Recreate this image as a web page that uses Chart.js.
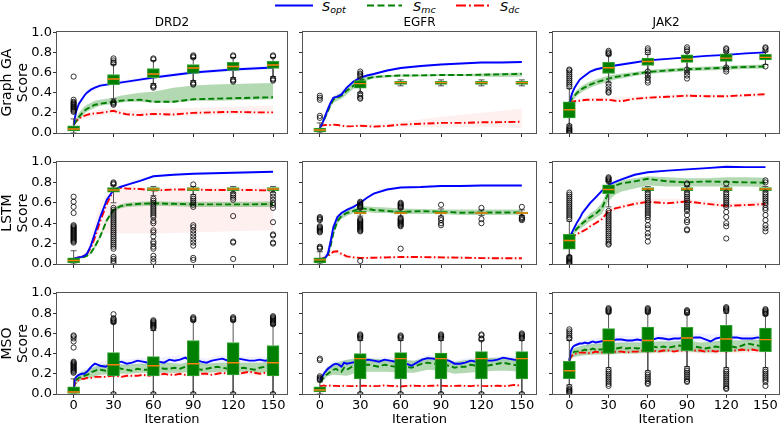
<!DOCTYPE html>
<html><head><meta charset="utf-8">
<script src="https://cdn.jsdelivr.net/npm/chart.js@4.4.0/dist/chart.umd.min.js"></script>
<style>
body{margin:0;background:#fff;width:784px;height:426px;overflow:hidden;position:relative;font-family:'DejaVu Sans',sans-serif}
canvas{position:absolute}
.leg{position:absolute;top:-1.5px;font:italic 13px 'DejaVu Sans',sans-serif;line-height:16px;color:#000;white-space:nowrap}
.leg sub{font-size:9.5px;vertical-align:-2px;line-height:0}
</style></head><body>
<svg style="position:absolute;left:0;top:0" width="784" height="14">
<line x1="275" y1="5.5" x2="313" y2="5.5" stroke="#0000ff" stroke-width="2"/>
<line x1="367" y1="5.5" x2="402" y2="5.5" stroke="#008000" stroke-width="2" stroke-dasharray="7,3.5"/>
<line x1="456" y1="5.5" x2="492" y2="5.5" stroke="#ff0000" stroke-width="2" stroke-dasharray="10,3,2,3"/>
</svg>
<div class="leg" style="left:322px">S<sub>opt</sub></div>
<div class="leg" style="left:413px">S<sub>mc</sub></div>
<div class="leg" style="left:500px">S<sub>dc</sub></div>
<script>
// ---------- categories / ticks ----------
const colNames = ['DRD2', 'EGFR', 'JAK2'];
const rowNames = ['Graph GA', 'LSTM', 'MSO'];
const iterTicks = [0, 30, 60, 90, 120, 150];
const yTickVals = [0, 0.2, 0.4, 0.6, 0.8, 1.0];
const boxIters = [0, 30, 60, 90, 120, 150];
const xSmooth = [0,2,4,6,8,10,13,16,20,25,30,35,40,50,60,75,90,105,120,135,150];
const xBand = [0,5,10,20,30,45,60,90,120,150];
const xNoisy = [0,1,2,3,4,6,8,10,12,14,16,18,20,24,28,32,36,40,44,48,52,56,60,64,68,72,76,80,84,88,92,96,100,104,108,112,116,120,124,128,132,136,140,144,148,150];
const xBandM = [0,2,5,10,20,30,40,50,60,70,80,90,100,110,120,130,140,150];

// ---------- Graph GA / DRD2 ----------
const gaDrd2Opt = [0.08,0.22,0.29,0.33,0.37,0.40,0.43,0.45,0.47,0.48,0.49,0.50,0.51,0.53,0.55,0.575,0.60,0.615,0.63,0.64,0.65];
const gaDrd2Mc = [0.08,0.12,0.16,0.19,0.22,0.24,0.26,0.28,0.29,0.30,0.31,0.32,0.325,0.33,0.31,0.31,0.335,0.34,0.345,0.35,0.355];
const gaDrd2McLo = [0.07,0.10,0.13,0.16,0.19,0.21,0.23,0.25,0.27,0.28,0.29,0.30,0.31,0.31,0.30,0.30,0.32,0.32,0.325,0.33,0.335];
const gaDrd2McHi = [0.09,0.15,0.20,0.23,0.26,0.28,0.30,0.32,0.33,0.34,0.35,0.37,0.38,0.40,0.41,0.45,0.47,0.48,0.485,0.49,0.495];
const gaDrd2Dc = [0.08,0.12,0.14,0.16,0.17,0.18,0.19,0.195,0.20,0.21,0.22,0.20,0.185,0.178,0.19,0.183,0.20,0.205,0.21,0.205,0.205];
const gaDrd2OptLo = [0.07,0.30,0.38,0.45,0.47,0.50,0.53,0.58,0.61,0.63];
const gaDrd2OptHi = [0.09,0.34,0.43,0.49,0.51,0.54,0.57,0.62,0.65,0.67];
const gaDrd2DcLo = [0.07,0.13,0.15,0.17,0.19,0.16,0.16,0.17,0.18,0.18];
const gaDrd2DcHi = [0.09,0.17,0.20,0.23,0.25,0.22,0.24,0.25,0.26,0.27];
const gaDrd2Q1 = [0.02,0.48,0.55,0.59,0.62,0.64];
const gaDrd2Med = [0.04,0.535,0.585,0.645,0.66,0.675];
const gaDrd2Q3 = [0.07,0.58,0.64,0.68,0.70,0.71];
const gaDrd2WLo = [0.0,0.34,0.49,0.52,0.55,0.56];
const gaDrd2WHi = [0.14,0.68,0.72,0.74,0.75,0.75];
const gaDrd2Out = [[0.56,0.33,0.31,0.30,0.29,0.28,0.27,0.26,0.25,0.24,0.23,0.22,0.21],[0.74,0.72,0.70,0.69,0.31,0.30,0.29,0.28],[0.74,0.73,0.47,0.46,0.45],[0.77,0.76,0.75,0.50,0.49,0.48],[0.77,0.76,0.53,0.52,0.51],[0.77,0.76,0.54,0.53,0.52]];

// ---------- Graph GA / EGFR ----------
const gaEgfrOpt = [0.05,0.10,0.17,0.24,0.30,0.35,0.36,0.38,0.45,0.51,0.55,0.57,0.585,0.62,0.645,0.665,0.68,0.69,0.70,0.70,0.705];
const gaEgfrMc = [0.05,0.10,0.16,0.22,0.28,0.33,0.35,0.37,0.42,0.47,0.52,0.54,0.555,0.565,0.57,0.572,0.575,0.575,0.578,0.582,0.587];
const gaEgfrMcLo = [0.04,0.08,0.13,0.19,0.25,0.30,0.32,0.34,0.38,0.44,0.49,0.52,0.54,0.55,0.56,0.56,0.565,0.565,0.56,0.555,0.56];
const gaEgfrMcHi = [0.06,0.12,0.19,0.25,0.31,0.36,0.38,0.40,0.45,0.50,0.54,0.56,0.57,0.575,0.58,0.58,0.585,0.585,0.59,0.595,0.60];
const gaEgfrDc = [0.075,0.075,0.08,0.08,0.08,0.083,0.08,0.072,0.066,0.068,0.072,0.068,0.063,0.07,0.083,0.092,0.10,0.10,0.106,0.108,0.112];
const gaEgfrOptLo = [0.04,0.18,0.33,0.43,0.53,0.59,0.63,0.67,0.69,0.695];
const gaEgfrOptHi = [0.06,0.22,0.37,0.47,0.57,0.61,0.66,0.69,0.71,0.715];
const gaEgfrDcLo = [0.07,0.07,0.07,0.06,0.06,0.06,0.06,0.06,0.06,0.05];
const gaEgfrDcHi = [0.08,0.09,0.09,0.08,0.09,0.09,0.11,0.16,0.20,0.24];
const gaEgfrQ1 = [0.01,0.445,0.483,0.483,0.483,0.483];
const gaEgfrMed = [0.03,0.49,0.50,0.50,0.50,0.50];
const gaEgfrQ3 = [0.05,0.52,0.513,0.513,0.513,0.513];
const gaEgfrWLo = [0.0,0.40,0.468,0.468,0.468,0.468];
const gaEgfrWHi = [0.10,0.55,0.527,0.527,0.527,0.527];
const gaEgfrOut = [[0.37,0.35,0.33,0.17,0.15],[0.61,0.59,0.58,0.56,0.39,0.37,0.35,0.34],[],[],[],[]];

// ---------- Graph GA / JAK2 ----------
const gaJak2Opt = [0.30,0.39,0.45,0.49,0.53,0.55,0.58,0.61,0.63,0.645,0.66,0.67,0.68,0.70,0.72,0.735,0.75,0.765,0.775,0.79,0.80];
const gaJak2Mc = [0.30,0.34,0.37,0.40,0.42,0.44,0.46,0.48,0.50,0.52,0.54,0.555,0.565,0.585,0.605,0.62,0.632,0.64,0.648,0.655,0.66];
const gaJak2McLo = [0.29,0.31,0.34,0.37,0.39,0.41,0.43,0.45,0.47,0.49,0.51,0.53,0.54,0.565,0.585,0.60,0.612,0.62,0.628,0.635,0.64];
const gaJak2McHi = [0.31,0.37,0.40,0.43,0.45,0.47,0.49,0.51,0.53,0.55,0.57,0.58,0.59,0.605,0.625,0.64,0.652,0.66,0.668,0.675,0.68];
const gaJak2Dc = [0.30,0.31,0.315,0.32,0.32,0.325,0.33,0.33,0.33,0.33,0.33,0.32,0.315,0.34,0.35,0.36,0.37,0.365,0.365,0.375,0.385];
const gaJak2OptLo = [0.29,0.45,0.54,0.62,0.65,0.69,0.71,0.74,0.765,0.79];
const gaJak2OptHi = [0.31,0.49,0.57,0.65,0.67,0.71,0.73,0.76,0.785,0.81];
const gaJak2DcLo = [0.29,0.30,0.31,0.31,0.31,0.32,0.33,0.35,0.35,0.36];
const gaJak2DcHi = [0.31,0.33,0.34,0.35,0.35,0.36,0.37,0.39,0.38,0.40];
const gaJak2Q1 = [0.15,0.59,0.67,0.70,0.71,0.726];
const gaJak2Med = [0.23,0.647,0.71,0.733,0.743,0.75];
const gaJak2Q3 = [0.31,0.70,0.743,0.776,0.786,0.78];
const gaJak2WLo = [0.08,0.50,0.55,0.60,0.64,0.68];
const gaJak2WHi = [0.44,0.77,0.78,0.80,0.80,0.81];
const gaJak2Out = [[0.63,0.62,0.60,0.58,0.56,0.54,0.52,0.50,0.48,0.46,0.07,0.05,0.04,0.03,0.02,0.01,0.0],[0.815,0.80,0.79,0.78,0.49,0.46,0.43,0.41,0.40],[0.84,0.82,0.80,0.61,0.58,0.55,0.52,0.50],[0.85,0.83,0.81,0.63,0.60,0.57,0.54],[0.84,0.83,0.81,0.65,0.63,0.61],[0.85,0.84,0.82,0.66]];

// ---------- LSTM / DRD2 ----------
const lsDrd2Opt = [0.05,0.06,0.065,0.07,0.08,0.10,0.18,0.30,0.46,0.63,0.725,0.755,0.775,0.815,0.86,0.875,0.885,0.89,0.895,0.90,0.905];
const lsDrd2Mc = [0.05,0.055,0.06,0.065,0.07,0.08,0.11,0.17,0.27,0.43,0.53,0.565,0.58,0.59,0.595,0.59,0.585,0.585,0.585,0.585,0.588];
const lsDrd2McLo = [0.04,0.045,0.05,0.055,0.06,0.07,0.10,0.15,0.25,0.41,0.51,0.545,0.56,0.565,0.57,0.565,0.56,0.56,0.56,0.56,0.56];
const lsDrd2McHi = [0.06,0.065,0.07,0.075,0.08,0.09,0.12,0.19,0.29,0.45,0.55,0.585,0.60,0.61,0.615,0.61,0.61,0.61,0.61,0.61,0.615];
const lsDrd2Dc = [0.05,0.06,0.065,0.07,0.08,0.10,0.16,0.26,0.42,0.59,0.72,0.745,0.74,0.735,0.72,0.73,0.73,0.725,0.725,0.725,0.72];
const lsDrd2OptLo = [0.04,0.06,0.09,0.44,0.71,0.79,0.85,0.875,0.885,0.895];
const lsDrd2OptHi = [0.06,0.08,0.11,0.48,0.74,0.82,0.87,0.895,0.905,0.915];
const lsDrd2DcLo = [0.04,0.05,0.08,0.30,0.30,0.30,0.30,0.31,0.32,0.33];
const lsDrd2DcHi = [0.06,0.08,0.12,0.60,0.76,0.76,0.75,0.75,0.75,0.75];
const lsDrd2Q1 = [0.01,0.705,0.72,0.72,0.72,0.72];
const lsDrd2Med = [0.035,0.725,0.735,0.735,0.735,0.735];
const lsDrd2Q3 = [0.06,0.75,0.75,0.75,0.75,0.75];
const lsDrd2WLo = [0.0,0.60,0.67,0.68,0.70,0.70];
const lsDrd2WHi = [0.13,0.77,0.76,0.76,0.76,0.76];
const lsDrd2Out = [[0.66,0.61,0.56,0.50,0.38,0.37,0.36,0.35,0.34,0.33,0.32,0.31,0.30,0.29,0.28,0.27,0.26,0.25,0.24,0.23,0.22,0.21],
 [0.80,0.79,0.78,0.55,0.53,0.51,0.49,0.47,0.45,0.43,0.41,0.39,0.37,0.35,0.33,0.31,0.29,0.27,0.25,0.23,0.21,0.19,0.17,0.15,0.07,0.05,0.03,0.01],
 [0.64,0.62,0.60,0.58,0.56,0.54,0.52,0.50,0.48,0.46,0.42,0.40,0.33,0.31,0.27,0.22,0.20,0.17,0.15,0.08,0.05,0.02],
 [0.78,0.66,0.64,0.62,0.60,0.58,0.56,0.38,0.36,0.33,0.30,0.27,0.24,0.21,0.18,0.06,0.04],
 [0.69,0.67,0.65,0.63,0.47,0.22,0.21,0.05],
 [0.69,0.66,0.63,0.60,0.58,0.55,0.41,0.29,0.28,0.21,0.20]];

// ---------- LSTM / EGFR ----------
const lsEgfrOpt = [0.05,0.05,0.06,0.10,0.22,0.36,0.46,0.50,0.53,0.56,0.60,0.65,0.69,0.73,0.75,0.755,0.765,0.765,0.77,0.77,0.77];
const lsEgfrMc = [0.05,0.05,0.06,0.09,0.18,0.30,0.42,0.47,0.50,0.52,0.546,0.54,0.53,0.52,0.51,0.518,0.513,0.503,0.505,0.505,0.506];
const lsEgfrMcLo = [0.04,0.04,0.05,0.07,0.15,0.27,0.39,0.44,0.47,0.50,0.51,0.51,0.50,0.50,0.49,0.49,0.49,0.48,0.48,0.48,0.485];
const lsEgfrMcHi = [0.06,0.06,0.07,0.11,0.21,0.33,0.45,0.50,0.53,0.55,0.565,0.565,0.56,0.555,0.545,0.54,0.535,0.535,0.535,0.535,0.535];
const lsEgfrDc = [0.05,0.055,0.065,0.08,0.10,0.12,0.125,0.10,0.075,0.065,0.06,0.06,0.062,0.065,0.068,0.068,0.065,0.062,0.058,0.056,0.056];
const lsEgfrOptLo = [0.04,0.08,0.34,0.52,0.59,0.72,0.74,0.755,0.76,0.76];
const lsEgfrOptHi = [0.06,0.12,0.38,0.55,0.61,0.74,0.76,0.775,0.78,0.78];
const lsEgfrDcLo = [0.04,0.06,0.10,0.06,0.05,0.05,0.055,0.05,0.045,0.045];
const lsEgfrDcHi = [0.06,0.08,0.14,0.09,0.07,0.075,0.08,0.08,0.07,0.07];
const lsEgfrQ1 = [0.01,0.49,0.49,0.49,0.49,0.49];
const lsEgfrMed = [0.04,0.50,0.50,0.50,0.50,0.50];
const lsEgfrQ3 = [0.06,0.52,0.52,0.52,0.51,0.51];
const lsEgfrWLo = [0.0,0.47,0.47,0.47,0.475,0.475];
const lsEgfrWHi = [0.12,0.545,0.54,0.54,0.53,0.53];
const lsEgfrOut = [[0.46,0.45,0.44,0.43,0.37,0.36,0.35,0.34,0.33,0.32,0.31,0.17,0.16,0.15],
 [0.61,0.60,0.59,0.58,0.57,0.56,0.55,0.44,0.43,0.42,0.41,0.40,0.39,0.38,0.37,0.36,0.35,0.34,0.33,0.32,0.03],
 [0.60,0.59,0.58,0.57,0.56,0.55,0.45,0.44,0.43,0.42,0.41,0.40,0.39,0.38,0.37,0.15],
 [0.58,0.45,0.43,0.40,0.38],
 [0.55,0.44,0.40],
 [0.56,0.46,0.45,0.44,0.43]];

// ---------- LSTM / JAK2 ----------
const lsJak2Opt = [0.26,0.31,0.36,0.41,0.45,0.50,0.55,0.60,0.65,0.72,0.775,0.805,0.83,0.875,0.90,0.915,0.928,0.94,0.954,0.95,0.95];
const lsJak2Mc = [0.26,0.29,0.32,0.35,0.37,0.40,0.43,0.46,0.49,0.55,0.70,0.77,0.79,0.81,0.835,0.81,0.80,0.81,0.805,0.80,0.797];
const lsJak2McLo = [0.25,0.27,0.30,0.32,0.34,0.36,0.39,0.42,0.45,0.49,0.62,0.68,0.71,0.74,0.77,0.76,0.76,0.76,0.76,0.76,0.755];
const lsJak2McHi = [0.27,0.31,0.34,0.38,0.40,0.43,0.46,0.50,0.53,0.60,0.76,0.80,0.82,0.84,0.86,0.85,0.84,0.84,0.85,0.85,0.845];
const lsJak2Dc = [0.26,0.27,0.28,0.29,0.31,0.32,0.34,0.37,0.40,0.44,0.52,0.545,0.56,0.59,0.61,0.595,0.614,0.59,0.57,0.578,0.588];
const lsJak2OptLo = [0.25,0.37,0.48,0.63,0.76,0.86,0.89,0.92,0.945,0.94];
const lsJak2OptHi = [0.27,0.40,0.52,0.67,0.79,0.88,0.91,0.94,0.962,0.96];
const lsJak2DcLo = [0.25,0.27,0.30,0.38,0.50,0.56,0.58,0.59,0.55,0.56];
const lsJak2DcHi = [0.27,0.29,0.34,0.42,0.54,0.61,0.64,0.64,0.60,0.62];
const lsJak2Q1 = [0.145,0.69,0.72,0.72,0.72,0.72];
const lsJak2Med = [0.23,0.73,0.735,0.735,0.735,0.735];
const lsJak2Q3 = [0.29,0.775,0.75,0.75,0.75,0.75];
const lsJak2WLo = [0.08,0.56,0.71,0.71,0.71,0.71];
const lsJak2WHi = [0.42,0.81,0.76,0.76,0.76,0.76];
const lsJak2Out = [[0.70,0.68,0.66,0.64,0.62,0.60,0.58,0.56,0.54,0.52,0.50,0.48,0.46,0.44,0.07,0.06,0.05,0.04,0.03,0.02,0.01,0.0],
 [0.85,0.84,0.83,0.82,0.81,0.52,0.50,0.48,0.46,0.44,0.42,0.40,0.38,0.36,0.34,0.32,0.30,0.28,0.26,0.24,0.22,0.20,0.19],
 [0.70,0.68,0.66,0.64,0.62,0.60,0.58,0.56,0.54,0.52,0.50,0.48,0.46,0.43,0.38,0.35,0.30,0.27,0.22],
 [0.79,0.78,0.70,0.68,0.66,0.64,0.62,0.60,0.58,0.56,0.54,0.52,0.48,0.43,0.41,0.34,0.33],
 [0.79,0.70,0.68,0.66,0.64,0.62,0.60,0.58,0.56,0.51,0.46,0.40,0.37,0.25],
 [0.82,0.80,0.70,0.68,0.66,0.64,0.62,0.60,0.58,0.55,0.53,0.48,0.43,0.38,0.35,0.32]];

// ---------- MSO / DRD2 ----------
const msDrd2Opt = [0.05,0.15,0.17,0.18,0.19,0.20,0.20,0.22,0.25,0.28,0.30,0.29,0.28,0.27,0.29,0.31,0.32,0.30,0.31,0.33,0.32,0.31,0.31,0.32,0.31,0.34,0.33,0.34,0.36,0.33,0.34,0.32,0.31,0.33,0.34,0.35,0.33,0.34,0.35,0.34,0.33,0.33,0.34,0.33,0.34,0.34];
const msDrd2Mc = [0.05,0.12,0.14,0.15,0.16,0.17,0.18,0.19,0.20,0.22,0.23,0.24,0.24,0.23,0.25,0.26,0.25,0.24,0.23,0.25,0.24,0.24,0.25,0.26,0.25,0.25,0.26,0.25,0.27,0.26,0.25,0.24,0.25,0.26,0.27,0.26,0.25,0.26,0.25,0.26,0.25,0.24,0.26,0.27,0.26,0.27];
const msDrd2Dc = [0.05,0.10,0.12,0.13,0.14,0.15,0.15,0.16,0.16,0.16,0.17,0.17,0.17,0.17,0.18,0.18,0.17,0.18,0.18,0.18,0.19,0.18,0.19,0.19,0.20,0.19,0.19,0.20,0.19,0.20,0.19,0.20,0.20,0.19,0.20,0.21,0.20,0.21,0.20,0.21,0.22,0.21,0.20,0.21,0.22,0.21];
const msDrd2McLo = [0.04,0.10,0.13,0.15,0.19,0.20,0.20,0.21,0.21,0.21,0.21,0.22,0.21,0.22,0.22,0.22,0.21,0.22];
const msDrd2McHi = [0.06,0.18,0.21,0.24,0.29,0.30,0.29,0.30,0.30,0.31,0.30,0.32,0.30,0.31,0.31,0.31,0.31,0.32];
const msDrd2OptLo = [0.04,0.14,0.17,0.19,0.25,0.28,0.27,0.29,0.28,0.30,0.30,0.30,0.28,0.31,0.31,0.31,0.31,0.31];
const msDrd2OptHi = [0.06,0.20,0.23,0.26,0.32,0.35,0.34,0.36,0.35,0.37,0.38,0.37,0.35,0.38,0.38,0.37,0.37,0.37];
const msDrd2DcLo = [0.04,0.10,0.13,0.14,0.15,0.16,0.16,0.17,0.17,0.18,0.18,0.17,0.18,0.19,0.19,0.19,0.18,0.19];
const msDrd2DcHi = [0.06,0.14,0.17,0.18,0.19,0.20,0.20,0.21,0.21,0.22,0.22,0.21,0.22,0.23,0.23,0.23,0.22,0.23];
const msDrd2Q1 = [0.0,0.18,0.18,0.18,0.19,0.18];
const msDrd2Med = [0.02,0.29,0.28,0.30,0.31,0.31];
const msDrd2Q3 = [0.07,0.41,0.37,0.53,0.51,0.48];
const msDrd2WLo = [0.0,0.01,0.01,0.01,0.01,0.01];
const msDrd2WHi = [0.15,0.70,0.63,0.72,0.72,0.68];
const msDrd2Out = [[0.58,0.57,0.55,0.52,0.46,0.32,0.31,0.30,0.29,0.28,0.27,0.26,0.25,0.24,0.23,0.22,0.21],[0.79,0.75,0.74,0.73,0.72,0.71,0.0],[0.73,0.72,0.71,0.70,0.69,0.68,0.67,0.66,0.65,0.0],[0.76,0.75,0.74,0.73,0.0],[0.76,0.75,0.74,0.73,0.0],[0.77,0.76,0.75,0.74,0.73,0.72,0.71,0.70,0.69,0.0]];

// ---------- MSO / EGFR ----------
const msEgfrOpt = [0.14,0.16,0.175,0.20,0.22,0.25,0.27,0.29,0.30,0.29,0.27,0.31,0.30,0.31,0.32,0.33,0.34,0.33,0.32,0.34,0.33,0.32,0.32,0.30,0.28,0.31,0.34,0.355,0.35,0.34,0.34,0.33,0.30,0.30,0.31,0.33,0.32,0.33,0.33,0.33,0.34,0.36,0.35,0.34,0.33,0.33];
const msEgfrMc = [0.12,0.13,0.15,0.16,0.18,0.20,0.22,0.24,0.25,0.23,0.22,0.26,0.24,0.27,0.28,0.29,0.29,0.28,0.27,0.29,0.28,0.27,0.28,0.27,0.26,0.28,0.30,0.31,0.30,0.30,0.29,0.28,0.26,0.27,0.27,0.29,0.28,0.29,0.28,0.29,0.30,0.31,0.30,0.29,0.28,0.28];
const msEgfrDc = [0.075,0.08,0.08,0.085,0.08,0.08,0.085,0.08,0.08,0.078,0.08,0.082,0.08,0.078,0.08,0.082,0.08,0.078,0.08,0.085,0.08,0.078,0.075,0.08,0.082,0.08,0.078,0.08,0.082,0.085,0.08,0.078,0.08,0.082,0.08,0.078,0.085,0.08,0.078,0.08,0.082,0.078,0.08,0.09,0.085,0.08];
const msEgfrMcLo = [0.10,0.12,0.17,0.19,0.18,0.22,0.22,0.22,0.21,0.21,0.24,0.23,0.20,0.21,0.22,0.23,0.23,0.22];
const msEgfrMcHi = [0.14,0.20,0.26,0.30,0.34,0.36,0.35,0.34,0.34,0.33,0.37,0.36,0.32,0.34,0.35,0.36,0.36,0.34];
const msEgfrOptLo = [0.12,0.15,0.21,0.26,0.27,0.29,0.30,0.30,0.29,0.28,0.32,0.31,0.27,0.30,0.30,0.31,0.32,0.30];
const msEgfrOptHi = [0.16,0.20,0.27,0.33,0.34,0.36,0.36,0.37,0.35,0.33,0.39,0.37,0.33,0.36,0.36,0.37,0.38,0.36];
const msEgfrDcLo = [0.065,0.07,0.07,0.07,0.07,0.07,0.07,0.07,0.065,0.07,0.07,0.07,0.07,0.07,0.07,0.07,0.07,0.07];
const msEgfrDcHi = [0.085,0.09,0.09,0.095,0.09,0.09,0.09,0.095,0.09,0.095,0.09,0.095,0.09,0.09,0.095,0.09,0.10,0.095];
const msEgfrQ1 = [0.02,0.15,0.15,0.15,0.15,0.15];
const msEgfrMed = [0.04,0.35,0.35,0.35,0.35,0.35];
const msEgfrQ3 = [0.07,0.40,0.41,0.405,0.42,0.42];
const msEgfrWLo = [0.0,0.01,0.01,0.01,0.01,0.01];
const msEgfrWHi = [0.12,0.53,0.53,0.53,0.53,0.53];
const msEgfrOut = [[0.35,0.335,0.175,0.16,0.15,0.14],[0.59,0.58,0.57,0.56,0.55,0.0],[0.58,0.57,0.56,0.55,0.0],[0.59,0.58,0.57,0.56,0.55,0.0],[0.59,0.58,0.55,0.54,0.0],[0.60,0.59,0.58,0.57,0.56,0.55,0.0]];

// ---------- MSO / JAK2 ----------
const msJak2Opt = [0.33,0.42,0.45,0.47,0.48,0.49,0.50,0.50,0.51,0.50,0.51,0.52,0.51,0.52,0.53,0.52,0.54,0.54,0.53,0.53,0.54,0.53,0.53,0.54,0.555,0.55,0.54,0.55,0.55,0.56,0.55,0.56,0.56,0.54,0.52,0.55,0.56,0.555,0.56,0.56,0.55,0.55,0.55,0.56,0.55,0.555];
const msJak2Mc = [0.33,0.38,0.40,0.41,0.42,0.42,0.43,0.43,0.44,0.43,0.44,0.45,0.44,0.44,0.45,0.44,0.45,0.46,0.45,0.46,0.45,0.46,0.46,0.47,0.46,0.47,0.46,0.47,0.48,0.47,0.48,0.47,0.46,0.45,0.46,0.47,0.46,0.48,0.47,0.46,0.48,0.50,0.49,0.48,0.47,0.48];
const msJak2Dc = [0.33,0.36,0.38,0.39,0.40,0.40,0.41,0.41,0.41,0.40,0.41,0.41,0.42,0.41,0.42,0.41,0.42,0.42,0.41,0.42,0.42,0.43,0.42,0.43,0.42,0.43,0.43,0.42,0.43,0.43,0.44,0.43,0.43,0.42,0.43,0.42,0.43,0.42,0.43,0.43,0.44,0.43,0.44,0.43,0.44,0.43];
const msJak2McLo = [0.31,0.36,0.37,0.38,0.39,0.39,0.40,0.40,0.41,0.41,0.42,0.42,0.41,0.41,0.42,0.42,0.43,0.42];
const msJak2McHi = [0.35,0.44,0.46,0.48,0.50,0.50,0.51,0.51,0.51,0.52,0.52,0.53,0.51,0.52,0.53,0.53,0.54,0.53];
const msJak2OptLo = [0.31,0.42,0.46,0.47,0.48,0.49,0.50,0.50,0.50,0.51,0.51,0.52,0.52,0.51,0.52,0.52,0.52,0.52];
const msJak2OptHi = [0.35,0.48,0.52,0.53,0.55,0.57,0.58,0.57,0.57,0.59,0.59,0.60,0.60,0.59,0.60,0.59,0.59,0.59];
const msJak2DcLo = [0.31,0.36,0.38,0.38,0.39,0.39,0.40,0.39,0.39,0.40,0.40,0.40,0.40,0.39,0.40,0.40,0.41,0.40];
const msJak2DcHi = [0.35,0.40,0.43,0.44,0.45,0.45,0.45,0.45,0.45,0.45,0.46,0.46,0.46,0.45,0.45,0.46,0.47,0.46];
const msJak2Q1 = [0.152,0.403,0.413,0.43,0.42,0.42];
const msJak2Med = [0.23,0.528,0.53,0.555,0.545,0.538];
const msJak2Q3 = [0.323,0.647,0.663,0.66,0.68,0.653];
const msJak2WLo = [0.09,0.26,0.23,0.27,0.26,0.26];
const msJak2WHi = [0.53,0.80,0.80,0.79,0.80,0.78];
const msJak2Out = [[0.64,0.62,0.60,0.58,0.56,0.55,0.07,0.05,0.04,0.03,0.02,0.01],
 [0.85,0.84,0.83,0.82,0.81,0.24,0.22,0.20,0.18,0.16,0.14,0.12,0.10,0.08],
 [0.85,0.84,0.83,0.82,0.81,0.21,0.19,0.17,0.15,0.13,0.11,0.10],
 [0.83,0.82,0.81,0.80,0.25,0.23,0.21,0.19,0.17,0.15,0.13,0.12],
 [0.86,0.85,0.84,0.83,0.82,0.24,0.22,0.20,0.18,0.16,0.14,0.12,0.10,0.08,0.06,0.05],
 [0.84,0.83,0.82,0.81,0.80,0.79,0.24,0.22,0.20,0.18,0.16,0.14,0.12,0.08]];

// ---------- panel table (built from the arrays above) ----------
const panels = [
 {row:0,col:0,x:xSmooth,mx:xSmooth,bx:xBand,opt:gaDrd2Opt,mc:gaDrd2Mc,dc:gaDrd2Dc,mcLo:gaDrd2McLo,mcHi:gaDrd2McHi,optLo:gaDrd2OptLo,optHi:gaDrd2OptHi,dcLo:gaDrd2DcLo,dcHi:gaDrd2DcHi,q1:gaDrd2Q1,med:gaDrd2Med,q3:gaDrd2Q3,wlo:gaDrd2WLo,whi:gaDrd2WHi,out:gaDrd2Out},
 {row:0,col:1,x:xSmooth,mx:xSmooth,bx:xBand,opt:gaEgfrOpt,mc:gaEgfrMc,dc:gaEgfrDc,mcLo:gaEgfrMcLo,mcHi:gaEgfrMcHi,optLo:gaEgfrOptLo,optHi:gaEgfrOptHi,dcLo:gaEgfrDcLo,dcHi:gaEgfrDcHi,q1:gaEgfrQ1,med:gaEgfrMed,q3:gaEgfrQ3,wlo:gaEgfrWLo,whi:gaEgfrWHi,out:gaEgfrOut},
 {row:0,col:2,x:xSmooth,mx:xSmooth,bx:xBand,opt:gaJak2Opt,mc:gaJak2Mc,dc:gaJak2Dc,mcLo:gaJak2McLo,mcHi:gaJak2McHi,optLo:gaJak2OptLo,optHi:gaJak2OptHi,dcLo:gaJak2DcLo,dcHi:gaJak2DcHi,q1:gaJak2Q1,med:gaJak2Med,q3:gaJak2Q3,wlo:gaJak2WLo,whi:gaJak2WHi,out:gaJak2Out},
 {row:1,col:0,x:xSmooth,mx:xSmooth,bx:xBand,opt:lsDrd2Opt,mc:lsDrd2Mc,dc:lsDrd2Dc,mcLo:lsDrd2McLo,mcHi:lsDrd2McHi,optLo:lsDrd2OptLo,optHi:lsDrd2OptHi,dcLo:lsDrd2DcLo,dcHi:lsDrd2DcHi,q1:lsDrd2Q1,med:lsDrd2Med,q3:lsDrd2Q3,wlo:lsDrd2WLo,whi:lsDrd2WHi,out:lsDrd2Out},
 {row:1,col:1,x:xSmooth,mx:xSmooth,bx:xBand,opt:lsEgfrOpt,mc:lsEgfrMc,dc:lsEgfrDc,mcLo:lsEgfrMcLo,mcHi:lsEgfrMcHi,optLo:lsEgfrOptLo,optHi:lsEgfrOptHi,dcLo:lsEgfrDcLo,dcHi:lsEgfrDcHi,q1:lsEgfrQ1,med:lsEgfrMed,q3:lsEgfrQ3,wlo:lsEgfrWLo,whi:lsEgfrWHi,out:lsEgfrOut},
 {row:1,col:2,x:xSmooth,mx:xSmooth,bx:xBand,opt:lsJak2Opt,mc:lsJak2Mc,dc:lsJak2Dc,mcLo:lsJak2McLo,mcHi:lsJak2McHi,optLo:lsJak2OptLo,optHi:lsJak2OptHi,dcLo:lsJak2DcLo,dcHi:lsJak2DcHi,q1:lsJak2Q1,med:lsJak2Med,q3:lsJak2Q3,wlo:lsJak2WLo,whi:lsJak2WHi,out:lsJak2Out},
 {row:2,col:0,x:xNoisy,mx:xBandM,bx:xBandM,opt:msDrd2Opt,mc:msDrd2Mc,dc:msDrd2Dc,mcLo:msDrd2McLo,mcHi:msDrd2McHi,optLo:msDrd2OptLo,optHi:msDrd2OptHi,dcLo:msDrd2DcLo,dcHi:msDrd2DcHi,q1:msDrd2Q1,med:msDrd2Med,q3:msDrd2Q3,wlo:msDrd2WLo,whi:msDrd2WHi,out:msDrd2Out},
 {row:2,col:1,x:xNoisy,mx:xBandM,bx:xBandM,opt:msEgfrOpt,mc:msEgfrMc,dc:msEgfrDc,mcLo:msEgfrMcLo,mcHi:msEgfrMcHi,optLo:msEgfrOptLo,optHi:msEgfrOptHi,dcLo:msEgfrDcLo,dcHi:msEgfrDcHi,q1:msEgfrQ1,med:msEgfrMed,q3:msEgfrQ3,wlo:msEgfrWLo,whi:msEgfrWHi,out:msEgfrOut},
 {row:2,col:2,x:xNoisy,mx:xBandM,bx:xBandM,opt:msJak2Opt,mc:msJak2Mc,dc:msJak2Dc,mcLo:msJak2McLo,mcHi:msJak2McHi,optLo:msJak2OptLo,optHi:msJak2OptHi,dcLo:msJak2DcLo,dcHi:msJak2DcHi,q1:msJak2Q1,med:msJak2Med,q3:msJak2Q3,wlo:msJak2WLo,whi:msJak2WHi,out:msJak2Out}
];

// ---------- styles / layout ----------
const FONT = "'DejaVu Sans', sans-serif";
const BOX_HALF = 4.5, CAP_HALF = 2.25;
const LINE_W = 1.9;
const COLS = [{left:0,w:292,yw:57,rp:5},{left:292,w:250,yw:11,rp:6},{left:542,w:242,yw:11,rp:3}];
const ROWS = [{top:0,h:140,tp:0,xh:7},{top:140,h:130,tp:22,xh:6},{top:270,h:156,tp:23,xh:32}];

const pts = (xs, ys) => xs.map((x, i) => ({x: x, y: ys[i]}));

const framePlugin = {
  id: 'frame',
  afterDatasetsDraw(chart) {
    const a = chart.chartArea, ctx = chart.ctx;
    const l = Math.round(a.left), t = Math.round(a.top), r = Math.round(a.right), b = Math.round(a.bottom);
    ctx.save();
    ctx.strokeStyle = '#555';
    ctx.lineWidth = 1;
    ctx.strokeRect(l - 0.5, t - 0.5, r - l + 1, b - t + 1);
    ctx.restore();
  }
};

function gridOpts() {
  return {display: true, drawOnChartArea: false, drawTicks: true, tickLength: 4, color: '#333', lineWidth: 1, offset: false};
}

function makeChart(p) {
  const C = COLS[p.col], R = ROWS[p.row];
  const cv = document.createElement('canvas');
  cv.width = C.w; cv.height = R.h;
  cv.style.left = C.left + 'px'; cv.style.top = R.top + 'px';
  cv.style.width = C.w + 'px'; cv.style.height = R.h + 'px';
  document.body.appendChild(cv);

  const ds = [];
  // outliers (fliers)
  const outPts = [];
  boxIters.forEach((x, i) => p.out[i].forEach(v => outPts.push({x: x, y: v})));
  ds.push({type: 'line', data: outPts, showLine: false, pointRadius: 2.6, pointStyle: 'circle',
    pointBackgroundColor: 'rgba(0,0,0,0)', pointBorderColor: '#000', pointBorderWidth: 0.8, borderColor: '#000'});
  // medians
  const medPts = [];
  boxIters.forEach((x, i) => { medPts.push({x: x - BOX_HALF, y: p.med[i]}, {x: x + BOX_HALF, y: p.med[i]}, {x: x, y: null}); });
  ds.push({type: 'line', data: medPts, borderColor: '#ff7f0e', borderWidth: 1.4, pointRadius: 0, spanGaps: false});
  // boxes (q1..q3 floating bars)
  ds.push({type: 'bar', data: boxIters.map((x, i) => ({x: x, y: [p.q1[i], p.q3[i]]})),
    backgroundColor: '#008000', borderColor: '#36a336', borderWidth: 1, barThickness: 12, borderSkipped: false, grouped: false});
  // whiskers and caps
  const wPts = [];
  boxIters.forEach((x, i) => {
    wPts.push({x: x, y: p.q3[i]}, {x: x, y: p.whi[i]}, {x: x, y: null},
              {x: x, y: p.q1[i]}, {x: x, y: p.wlo[i]}, {x: x, y: null},
              {x: x - CAP_HALF, y: p.whi[i]}, {x: x + CAP_HALF, y: p.whi[i]}, {x: x, y: null},
              {x: x - CAP_HALF, y: p.wlo[i]}, {x: x + CAP_HALF, y: p.wlo[i]}, {x: x, y: null});
  });
  ds.push({type: 'line', data: wPts, borderColor: '#555', borderWidth: 1, pointRadius: 0, spanGaps: false});
  // mean lines
  ds.push({type: 'line', data: pts(p.x, p.opt), borderColor: '#0000ff', borderWidth: LINE_W, pointRadius: 0, tension: 0});
  ds.push({type: 'line', data: pts(p.x, p.mc), borderColor: '#008000', borderWidth: LINE_W, borderDash: [6, 3], pointRadius: 0, tension: 0});
  ds.push({type: 'line', data: pts(p.x, p.dc), borderColor: '#ff0000', borderWidth: LINE_W, borderDash: [7, 2.5, 1.5, 2.5], pointRadius: 0, tension: 0});
  // shaded bands
  const band = (xs, hi, lo, col) => {
    ds.push({type: 'line', data: pts(xs, hi), borderColor: 'rgba(0,0,0,0)', borderWidth: 0, pointRadius: 0, fill: '+1', backgroundColor: col});
    ds.push({type: 'line', data: pts(xs, lo), borderColor: 'rgba(0,0,0,0)', borderWidth: 0, pointRadius: 0, fill: false});
  };
  band(p.mx, p.mcHi, p.mcLo, 'rgba(0,128,0,0.3)');
  band(p.bx, p.optHi, p.optLo, 'rgba(0,0,255,0.06)');
  band(p.bx, p.dcHi, p.dcLo, 'rgba(255,0,0,0.06)');

  new Chart(cv, {
    type: 'line',
    data: {datasets: ds},
    options: {
      responsive: false, animation: false, devicePixelRatio: 1, events: [],
      layout: {padding: {top: R.tp, right: C.rp, left: 0, bottom: 0}},
      plugins: {
        legend: {display: false}, tooltip: {enabled: false},
        title: {display: p.row === 0, text: colNames[p.col], fullSize: false, color: '#000',
          font: {family: FONT, size: 12, weight: 'normal', lineHeight: 1.2}, padding: {top: 16, bottom: 1.8}}
      },
      scales: {
        x: {
          type: 'linear', min: -12.5, max: 160.5, offset: false,
          afterBuildTicks: s => { s.ticks = iterTicks.map(v => ({value: v})); },
          afterFit: s => { s.height = R.xh; s.paddingLeft = 0; s.paddingRight = 0; },
          grid: gridOpts(), border: {display: false},
          ticks: {display: p.row === 2, autoSkip: false, maxRotation: 0, color: '#000', padding: 1,
            font: {family: FONT, size: 13, lineHeight: 1}, callback: v => String(v)},
          title: {display: p.row === 2, text: 'Iteration', color: '#000',
            font: {family: FONT, size: 13, lineHeight: 1}, padding: {top: 0, bottom: 0}}
        },
        y: {
          type: 'linear', min: 0, max: 1,
          afterBuildTicks: s => { s.ticks = yTickVals.map(v => ({value: v})); },
          afterFit: s => { s.width = C.yw; s.paddingTop = 0; s.paddingBottom = 0; },
          grid: gridOpts(), border: {display: false},
          ticks: {display: p.col === 0, autoSkip: false, color: '#000', padding: 1,
            font: {family: FONT, size: 13}, callback: v => Number(v).toFixed(1)},
          title: {display: p.col === 0, text: [rowNames[p.row], 'Score'], color: '#000',
            font: {family: FONT, size: 14, lineHeight: 1.1}, padding: {top: 0, bottom: 0}}
        }
      }
    },
    plugins: [framePlugin]
  });
}

panels.forEach(makeChart);
</script>
</body></html>
